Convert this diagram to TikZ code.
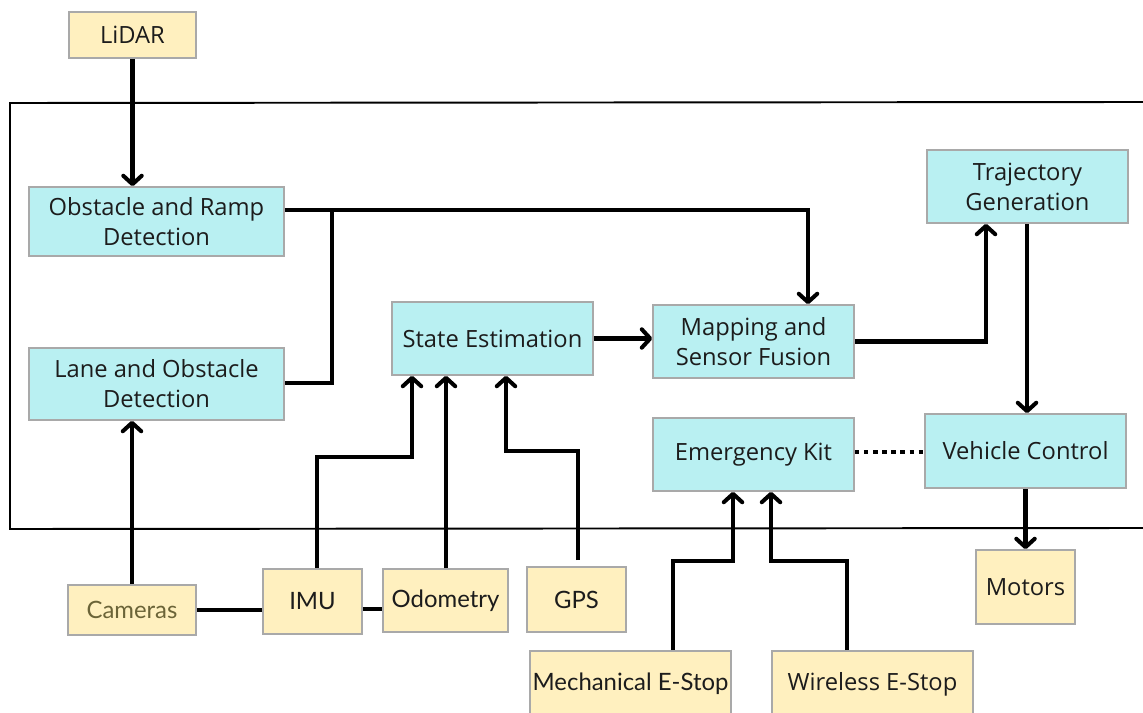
\documentclass[tikz,border=0pt]{standalone}
\usepackage{fontspec}
\setmainfont{Open Sans}
\newfontfamily\condfont{Lato}
\usetikzlibrary{arrows.meta,calc}
\definecolor{cyanfill}{HTML}{B9F0F2}
\definecolor{yelfill}{HTML}{FFF0BF}
\definecolor{boxline}{HTML}{A9A9A9}
\definecolor{txt}{HTML}{1C1C1C}
\definecolor{olive}{HTML}{6B6438}
\tikzset{
  base/.style={draw=boxline, line width=0.9pt, inner sep=0pt, align=center, text=txt,
    font=\fontsize{13.5}{17}\selectfont},
  cbox/.style={base, fill=cyanfill},
  ybox/.style={base, fill=yelfill},
  cond/.style={font=\condfont\fontsize{13.6}{16}\selectfont},
  ln/.style={line width=2.3pt, line join=miter},
  arr/.style={ln, -{Straight Barb[length=4.8pt,width=10.5pt,line cap=round,round]}},
  frame/.style={line width=1.1pt},
}
\begin{document}
\begin{tikzpicture}[x=0.02cm,y=-0.02cm]
\useasboundingbox (0,0) rectangle (1143,713);
% frame
\draw[frame] (1143,102) -- (10,103) -- (10,529) -- (1143,528);
% nodes
\node[ybox, minimum width=2.54cm, minimum height=0.92cm] (lidar) at (132.5,35) {LiDAR};
\node[cbox, minimum width=5.10cm, minimum height=1.38cm] (ord) at (156.5,221.5) {Obstacle and Ramp\\Detection};
\node[cbox, minimum width=5.10cm, minimum height=1.44cm] (lod) at (156.5,384) {Lane and Obstacle\\Detection};
\node[cbox, minimum width=4.02cm, minimum height=1.46cm] (se) at (492.5,338.5) {State Estimation};
\node[cbox, minimum width=4.02cm, minimum height=1.46cm] (msf) at (753.5,341.5) {Mapping and\\Sensor Fusion};
\node[cbox, minimum width=4.02cm, minimum height=1.46cm] (tg) at (1027.5,186.5) {Trajectory\\Generation};
\node[cbox, minimum width=4.02cm, minimum height=1.46cm] (ek) at (753.5,454.5) {Emergency Kit};
\node[cbox, minimum width=4.02cm, minimum height=1.48cm] (vc) at (1025.5,451) {Vehicle Control};
\node[ybox, minimum width=1.98cm, minimum height=1.48cm] (mot) at (1025.5,587) {Motors};
\node[ybox, cond, text=olive, minimum width=2.56cm, minimum height=1.00cm] (cam) at (132,610) {Cameras};
\node[ybox, cond, minimum width=1.98cm, minimum height=1.30cm] (imu) at (312.5,601.5) {IMU};
\node[ybox, cond, minimum width=2.50cm, minimum height=1.26cm] (odo) at (445.5,600.5) {Odometry};
\node[ybox, cond, minimum width=1.98cm, minimum height=1.30cm] (gps) at (576.5,599.5) {GPS};
\node[ybox, cond, minimum width=4.02cm, minimum height=1.32cm] (mes) at (630.5,684) {Mechanical E-Stop};
\node[ybox, minimum width=4.02cm, minimum height=1.32cm] (wes) at (872.5,684) {Wireless E-Stop};
% coordinates
\coordinate (j1) at (332,210);
\coordinate (gpsout) at (578,560);
% connectors
\draw[arr] (lidar.south) -- (lidar.south |- ord.north);
\draw[arr] (ord.east |- j1) -- (808,210) -- (808,0 |- msf.north);
\draw[ln] (j1) -- (332,383) -- (lod.east |- 0,383);
\draw[arr] (cam.north) -- (cam.north |- lod.south);
\draw[ln] (cam.east) -- (imu.west |- cam.east);
\draw[ln] (imu.east |- 0,609) -- (odo.west |- 0,609);
\draw[arr] (317,0 |- imu.north) -- (317,457) -- (412,457) -- (412,0 |- se.south);
\draw[arr] (446,0 |- odo.north) -- (446,0 |- se.south);
\draw[arr] (gpsout) -- (578,451) -- (506,451) -- (506,0 |- se.south);
\draw[arr] (se.east) -- (msf.west |- se.east);
\draw[arr] (msf.east) -- (986,341.5) -- (986,0 |- tg.south);
\draw[arr] (1027,0 |- tg.south) -- (1027,0 |- vc.north);
\draw[line width=2.3pt, dash pattern=on 2.6pt off 2.6pt] (ek.east |- 0,452) -- (vc.west |- 0,452);
\draw[arr] (vc.south) -- (mot.north);
\draw[arr] (673,0 |- mes.north) -- (673,561) -- (733,561) -- (733,0 |- ek.south);
\draw[arr] (847,0 |- wes.north) -- (847,561) -- (771,561) -- (771,0 |- ek.south);
\end{tikzpicture}
\end{document}
